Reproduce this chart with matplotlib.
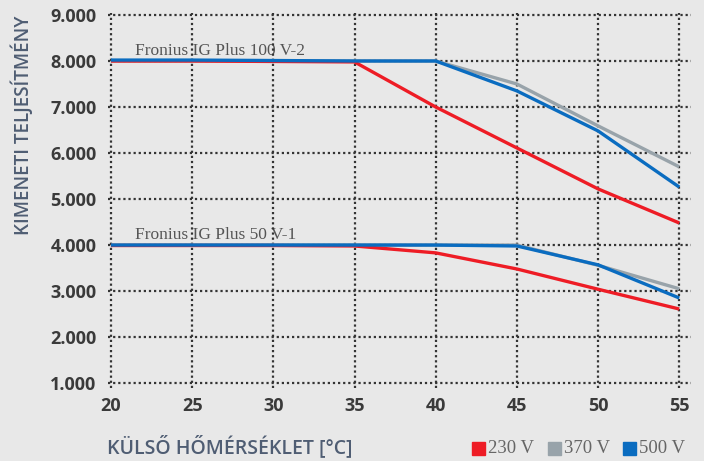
import matplotlib
matplotlib.use("Agg")
import matplotlib.pyplot as plt
from matplotlib.patches import Rectangle

temps = [20, 25, 30, 35, 40, 45, 50, 55]

# Fronius IG Plus 100 V-2
big_230 = [8000, 8000, 7990, 7980, 7000, 6110, 5220, 4480]
big_370 = [8000, 8000, 8000, 8000, 8000, 7500, 6590, 5700]
big_500 = [8020, 8020, 8010, 8000, 8000, 7350, 6480, 5260]

# Fronius IG Plus 50 V-1
small_230 = [3990, 3990, 3990, 3980, 3830, 3480, 3040, 2610]
small_370 = [4000, 4000, 4000, 4000, 4000, 4000, 3560, 3050]
small_500 = [4000, 4000, 4000, 4000, 4000, 3980, 3570, 2850]

series_names = ["230 V", "370 V", "500 V"]
colors = ["#ee1c25", "#98a3aa", "#0a6cc0"]

yticks = [1000, 2000, 3000, 4000, 5000, 6000, 7000, 8000, 9000]
ytick_labels = ["1.000", "2.000", "3.000", "4.000", "5.000", "6.000", "7.000", "8.000", "9.000"]
xticks = [20, 25, 30, 35, 40, 45, 50, 55]

bg = "#e8e8e8"
fig = plt.figure(figsize=(7.04, 4.61), dpi=100, facecolor=bg)
ax = fig.add_axes([0.153, 0.159, 0.828, 0.8135])
ax.set_facecolor(bg)

for vals, c in zip([big_370, big_230, big_500], [colors[1], colors[0], colors[2]]):
    ax.plot(temps, vals, color=c, lw=2.4, solid_capstyle="butt", zorder=3)
for vals, c in zip([small_370, small_230, small_500], [colors[1], colors[0], colors[2]]):
    ax.plot(temps, vals, color=c, lw=2.4, solid_capstyle="butt", zorder=3)

ax.set_xlim(19.8, 55.7)
ax.set_ylim(900, 9050)
ax.set_xticks(xticks)
ax.set_yticks(yticks)
ax.set_yticklabels(ytick_labels)
for s in ax.spines.values():
    s.set_visible(False)
ax.grid(True, color="#333333", linestyle=(0, (1, 1.3)), lw=1.6, zorder=1)
ax.tick_params(axis="both", length=0, labelcolor="#3a3a3a", labelsize=13)
ax.tick_params(axis="y", pad=8)
ax.tick_params(axis="x", pad=7)
for lab in ax.get_xticklabels() + ax.get_yticklabels():
    lab.set_fontweight("bold")
    lab.set_family("Open Sans")

ax.text(21.5, 8130, "Fronius IG Plus 100 V-2", family="Liberation Serif", fontsize=12.5,
        color="#555555", zorder=0.5)
ax.text(21.5, 4130, "Fronius IG Plus 50 V-1", family="Liberation Serif", fontsize=12.5,
        color="#555555", zorder=0.5)

fig.text(0.032, 0.728, "KIMENETI TELJESÍTMÉNY", rotation=90, ha="center", va="center",
         family="Open Sans", fontweight="semibold", fontsize=13.5, color="#4f5d73")
fig.text(0.152, 0.032, "KÜLSŐ HŐMÉRSÉKLET [°C]", ha="left", va="center",
         family="Open Sans", fontweight="semibold", fontsize=14, color="#4f5d73")

W, H = 704, 461
leg_x = [472, 548, 623]
for x0, c, name in zip(leg_x, colors, series_names):
    fig.patches.append(Rectangle((x0 / W, 1 - 454.5 / H), 13 / W, 13 / H,
                                 transform=fig.transFigure, color=c, figure=fig))
    fig.text((x0 + 16) / W, 1 - 448 / H, name, ha="left", va="center",
             family="Liberation Serif", fontsize=13.5, color="#666666")

fig.savefig("out.png", dpi=100, facecolor=bg)
